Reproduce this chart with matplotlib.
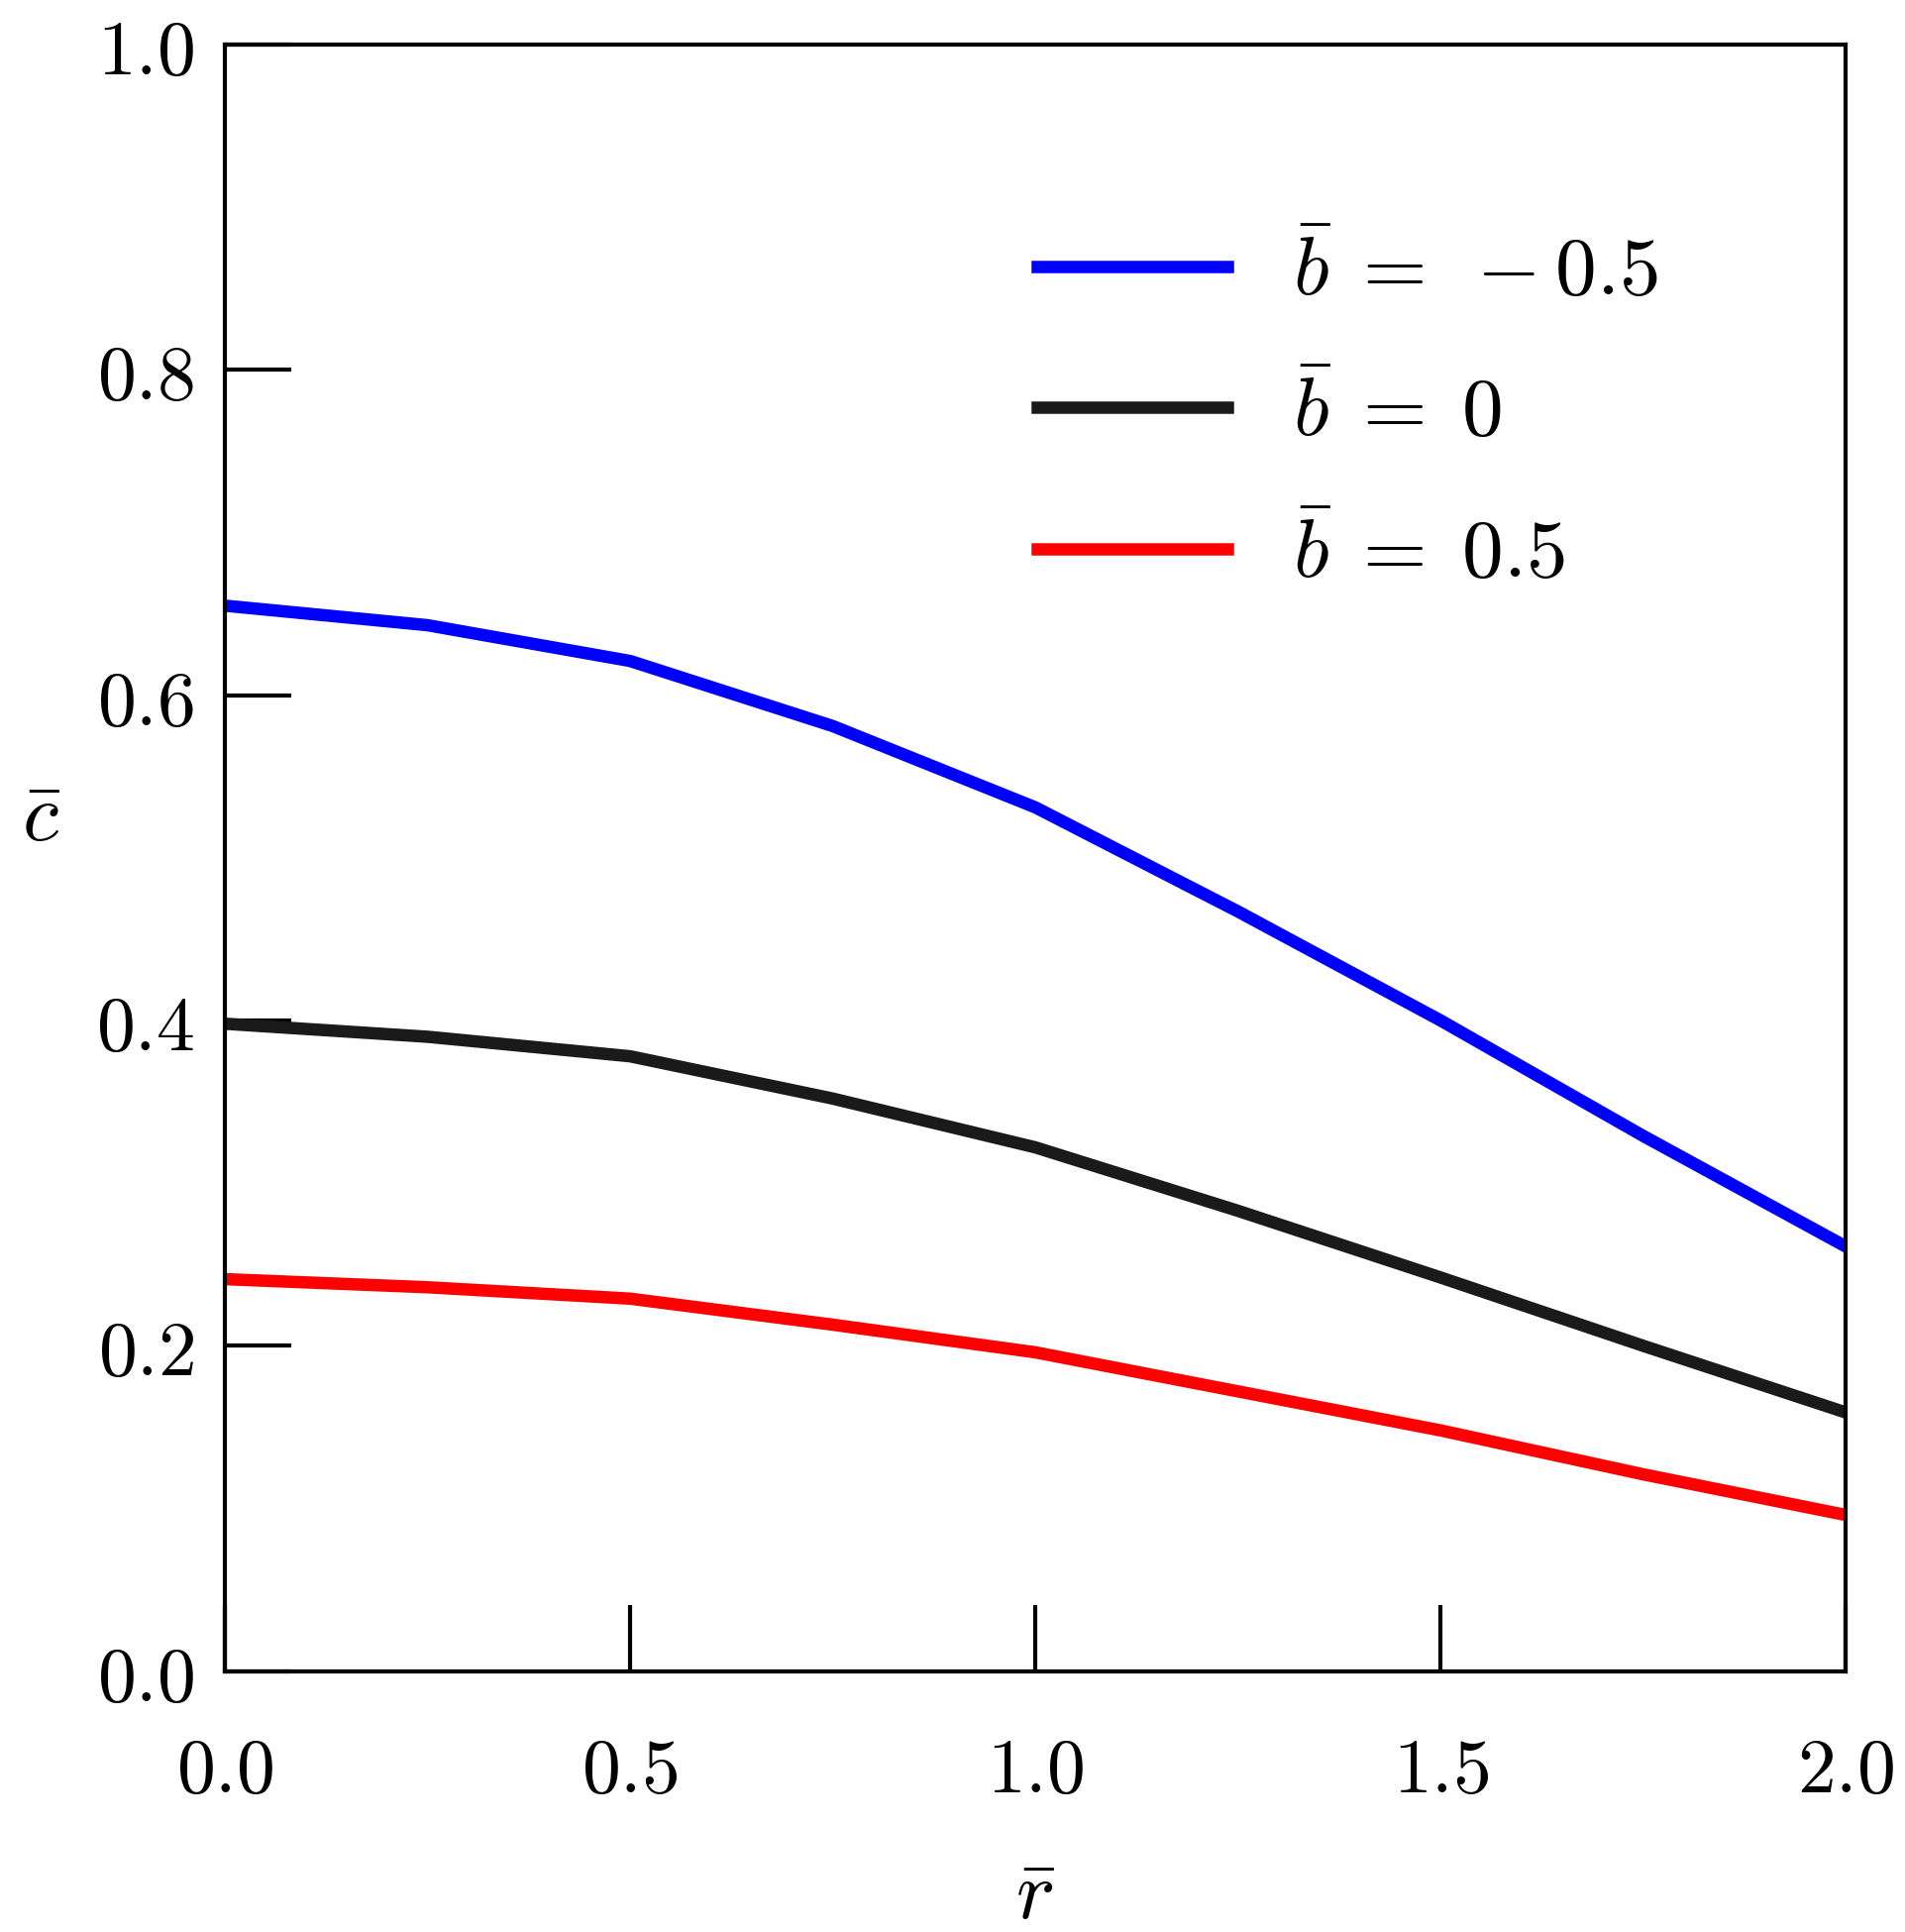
import numpy as np
import matplotlib.pyplot as plt
from matplotlib.ticker import FuncFormatter

plt.rcParams["mathtext.fontset"] = "cm"
plt.rcParams["font.family"] = "serif"

r = [0.0, 0.25, 0.5, 0.75, 1.0, 1.25, 1.5, 1.75, 2.0]
c_neg = [0.655, 0.643, 0.621, 0.581, 0.531, 0.467, 0.400, 0.329, 0.261]
c_zero = [0.398, 0.390, 0.378, 0.352, 0.322, 0.283, 0.242, 0.200, 0.159]
c_pos = [0.241, 0.236, 0.229, 0.213, 0.196, 0.172, 0.148, 0.121, 0.096]
labels = [r"$\bar{b}\;=\;-0.5$", r"$\bar{b}\;=\;0$", r"$\bar{b}\;=\;0.5$"]

fig = plt.figure(figsize=(19.23, 19.50), dpi=100)
ax = fig.add_axes([0.118, 0.135, 0.851, 0.842])
ax.plot(r, c_neg, color="blue", lw=9, label=labels[0])
ax.plot(r, c_zero, color="#1a1a1a", lw=9, label=labels[1])
ax.plot(r, c_pos, color="red", lw=9, label=labels[2])

ax.set_xlim(0, 2)
ax.set_ylim(0, 1)
ax.set_xticks([0, 0.5, 1.0, 1.5, 2.0])
ax.set_yticks([0, 0.2, 0.4, 0.6, 0.8, 1.0])
fmt = FuncFormatter(lambda v, p: f"${v:.1f}$")
ax.xaxis.set_major_formatter(fmt)
ax.yaxis.set_major_formatter(fmt)
ax.tick_params(direction="in", length=48, width=3, labelsize=56, pad=22)
ax.tick_params(axis="x", pad=45)
for s in ax.spines.values():
    s.set_linewidth(3)

ax.set_xlabel(r"$\bar{r}$", fontsize=60, labelpad=35)
ax.set_ylabel(r"$\bar{c}$", fontsize=60, rotation=0, labelpad=40)

ax.legend(loc="upper right", bbox_to_anchor=(0.93, 0.93), frameon=False,
          fontsize=60, handlelength=2.3, handletextpad=0.8, labelspacing=0.75)

fig.savefig("out.png")
